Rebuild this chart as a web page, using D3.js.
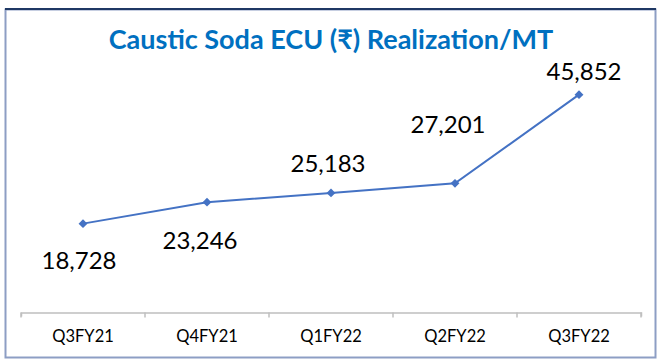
<!DOCTYPE html>
<html>
<head>
<meta charset="utf-8">
<script src="https://cdn.jsdelivr.net/npm/d3@7"></script>
<style>
  html, body { margin: 0; padding: 0; background: #fff; }
  svg { display: block; }
</style>
</head>
<body>
<svg id="chart" width="661" height="364"></svg>
<script>
// ---- data ----
const title = "Caustic Soda ECU (₹) Realization/MT";
const categories = ["Q3FY21", "Q4FY21", "Q1FY22", "Q2FY22", "Q3FY22"];
const values = [18728, 23246, 25183, 27201, 45852];

// ---- layout ----
const W = 661, H = 364;
const svg = d3.select("#chart");
const labelFont = "Lato, 'Open Sans', sans-serif";

// frame
svg.append("rect")
  .attr("x", 5.5).attr("y", 9.5).attr("width", 650).attr("height", 348)
  .attr("fill", "#fff").attr("stroke", "#8d9ec4").attr("stroke-width", 2);
svg.append("line")
  .attr("x1", 5).attr("x2", 656).attr("y1", 9).attr("y2", 9)
  .attr("stroke", "#1f3864").attr("stroke-width", 2);

const x = d3.scaleBand().domain(categories).range([21, 641]).padding(0);
const y = d3.scaleLinear().domain([0, 50000]).range([312.7, 74.9]);

// title
svg.append("text")
  .attr("x", 331).attr("y", 49)
  .attr("text-anchor", "middle")
  .attr("font-family", labelFont)
  .attr("font-weight", "bold")
  .attr("font-size", 27)
  .attr("fill", "#0070c0")
  .text(title);

// x axis
const xAxis = d3.axisBottom(x).tickSize(4).tickSizeOuter(4).tickPadding(14);
const gx = svg.append("g").attr("transform", "translate(0,312.5)").call(xAxis);
gx.select(".domain").attr("stroke", "#bfbfbf").attr("stroke-width", 1.5);
gx.selectAll(".tick line").remove();
// category boundary ticks
gx.selectAll("line.bound")
  .data(d3.range(categories.length + 1))
  .join("line").attr("class", "bound")
  .attr("x1", i => x.range()[0] + i * x.step())
  .attr("x2", i => x.range()[0] + i * x.step())
  .attr("y1", 0).attr("y2", 5)
  .attr("stroke", "#bfbfbf").attr("stroke-width", 1.5);
gx.selectAll(".tick text")
  .attr("font-family", labelFont)
  .attr("font-size", 16.5)
  .attr("fill", "#000");

const cx = d => x(d) + x.bandwidth() / 2;

// line
svg.append("path")
  .datum(values)
  .attr("fill", "none")
  .attr("stroke", "#4472c4")
  .attr("stroke-width", 2)
  .attr("d", d3.line().x((d, i) => cx(categories[i])).y(d => y(d)));

// markers
svg.selectAll("path.marker")
  .data(values)
  .join("path").attr("class", "marker")
  .attr("transform", (d, i) => `translate(${cx(categories[i])},${y(d)})`)
  .attr("d", d3.symbol(d3.symbolDiamond2, 50))
  .attr("fill", "#4472c4");

// data labels
const labelOffsets = [[-4, 45], [-7, 47], [-3, -21], [-7, -50], [5, -15]];
svg.selectAll("text.dl")
  .data(values)
  .join("text").attr("class", "dl")
  .attr("x", (d, i) => cx(categories[i]) + labelOffsets[i][0])
  .attr("y", (d, i) => y(d) + labelOffsets[i][1])
  .attr("text-anchor", "middle")
  .attr("font-family", labelFont)
  .attr("font-size", 24)
  .attr("fill", "#000")
  .text(d => d3.format(",")(d));
</script>
</body>
</html>
